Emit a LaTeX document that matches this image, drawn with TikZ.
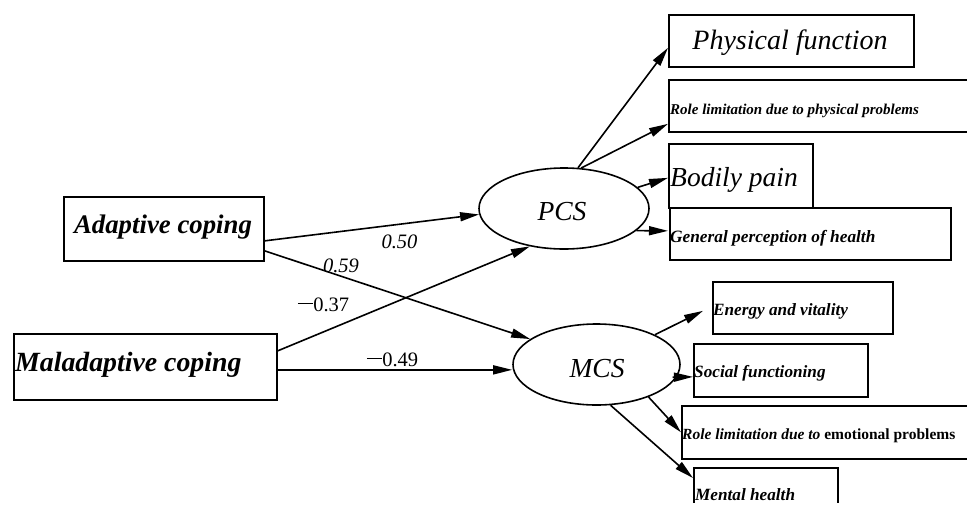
\documentclass[tikz,border=0pt]{standalone}
\usepackage{fontspec}
\setmainfont{Liberation Serif}
\usetikzlibrary{arrows.meta,calc,shapes.geometric}
\newcommand\wminus{\raisebox{0.38em}{\rule{0.75em}{0.06em}}}
\begin{document}
\begin{tikzpicture}[x=1pt,y=-1pt,
  box/.style={draw,line width=1.7pt,rectangle,inner sep=0pt,anchor=north west},
  lat/.style={draw,ellipse,line width=1.6pt,inner sep=0pt},
  arr/.style={line width=1.6pt,-{Triangle[length=19pt,width=9pt]}},
  bi/.style={inner sep=0pt,font=\fontsize{#1pt}{#1pt}\selectfont\bfseries\itshape},
  it/.style={inner sep=0pt,font=\fontsize{#1pt}{#1pt}\selectfont\itshape},
  up/.style={inner sep=0pt,font=\fontsize{#1pt}{#1pt}\selectfont}]
\clip (0,0) rectangle (967,512);
\fill[white] (0,0) rectangle (967,512);
% left boxes
\node[box,minimum width=200pt,minimum height=64pt] (adapt) at (63,196) {};
\node[box,minimum width=263pt,minimum height=66pt] (malad) at (13,333) {};
% right boxes
\node[box,minimum width=245pt,minimum height=52pt] (phys) at (668,14) {};
\node[box,minimum width=310pt,minimum height=52pt] (rolep) at (668,79) {};
\node[box,minimum width=144pt,minimum height=64pt] (bodily) at (668,143) {};
\node[box,minimum width=281pt,minimum height=52pt] (gen) at (669,207) {};
\node[box,minimum width=180pt,minimum height=52pt] (energy) at (712,281) {};
\node[box,minimum width=174pt,minimum height=53pt] (social) at (693,343) {};
\node[box,minimum width=300pt,minimum height=53pt] (rolee) at (681,405) {};
\begin{scope}
\clip (600,440) rectangle (900,502);
\node[box,minimum width=144pt,minimum height=60pt] (mental) at (693,467) {};
\end{scope}
% latent variables
\node[lat,minimum width=170pt,minimum height=81pt] (pcs) at (564,208.5) {};
\node[lat,minimum width=167pt,minimum height=81pt] (mcs) at (596.5,364.5) {};
\node[it=27.5] (pcst) at (562,212) {PCS};
\node[it=27.5] (mcst) at (597,369) {MCS};
% texts
\node[bi=26.8] (adaptt) at (163,227.5) {Adaptive coping};
\node[bi=27.8,anchor=west] (maladt) at (15,365) {Maladaptive coping};
\node[it=28] (physt) at (790,43) {Physical function};
\node[bi=15,anchor=west] (rolept) at (670,111) {Role limitation due to physical problems};
\node[it=27.5,anchor=west] (bodilyt) at (670,180) {Bodily pain};
\node[bi=17.3,anchor=west] (gent) at (670,238) {General perception of health};
\node[bi=17.2,anchor=west] (energyt) at (713,311) {Energy and vitality};
\node[bi=17.2,anchor=west] (socialt) at (694,373.5) {Social functioning};
\node[bi=15.5,anchor=west] (roleet) at (682,436) {Role limitation due to \upshape emotional problems};
\node[bi=17.2,anchor=west] (mentalt) at (695,495) {Mental health};
% path coefficients
\node[it=20.5] (l50) at (399.5,242) {0.50};
\node[it=20.5] (l59) at (341,266) {0.59};
\node[up=20.5] (l37) at (323.5,305) {\wminus0.37};
\node[up=20.5] (l49) at (392.5,360) {\wminus0.49};
% structural paths
\draw[arr] ($(adapt.east)+(0,12)$) -- (pcs.184);
\draw[arr] ($(adapt.east)+(0,22)$) -- (mcs.159);
\draw[arr] ($(malad.east)+(0,-16)$) -- (pcs.228);
\coordinate (m1) at ($(malad.east)+(0,3)$);
\draw[arr] (m1) -- (m1 -| mcs.west);
% measurement paths
\draw[arr] (pcs.71) -- ($(phys.west)+(0,7)$);
\draw[arr] (pcs.67) -- ($(rolep.west)+(0,18)$);
\draw[arr] (pcs.16) -- ($(bodily.west)+(0,2)$);
\draw[arr] (pcs.343) -- ($(gen.west)+(-1,-3)$);
\draw[arr] (mcs.27.5) -- ($(energy.west)+(-9,3)$);
\draw[arr] ($(mcs.351)+(-4,0)$) -- ($(social.west)+(0,6.5)$);
\draw[arr] (mcs.328) -- (rolee.west);
\draw[arr] (mcs.289) -- ($(mental.north west)+(0,11)$);
\end{tikzpicture}
\end{document}
